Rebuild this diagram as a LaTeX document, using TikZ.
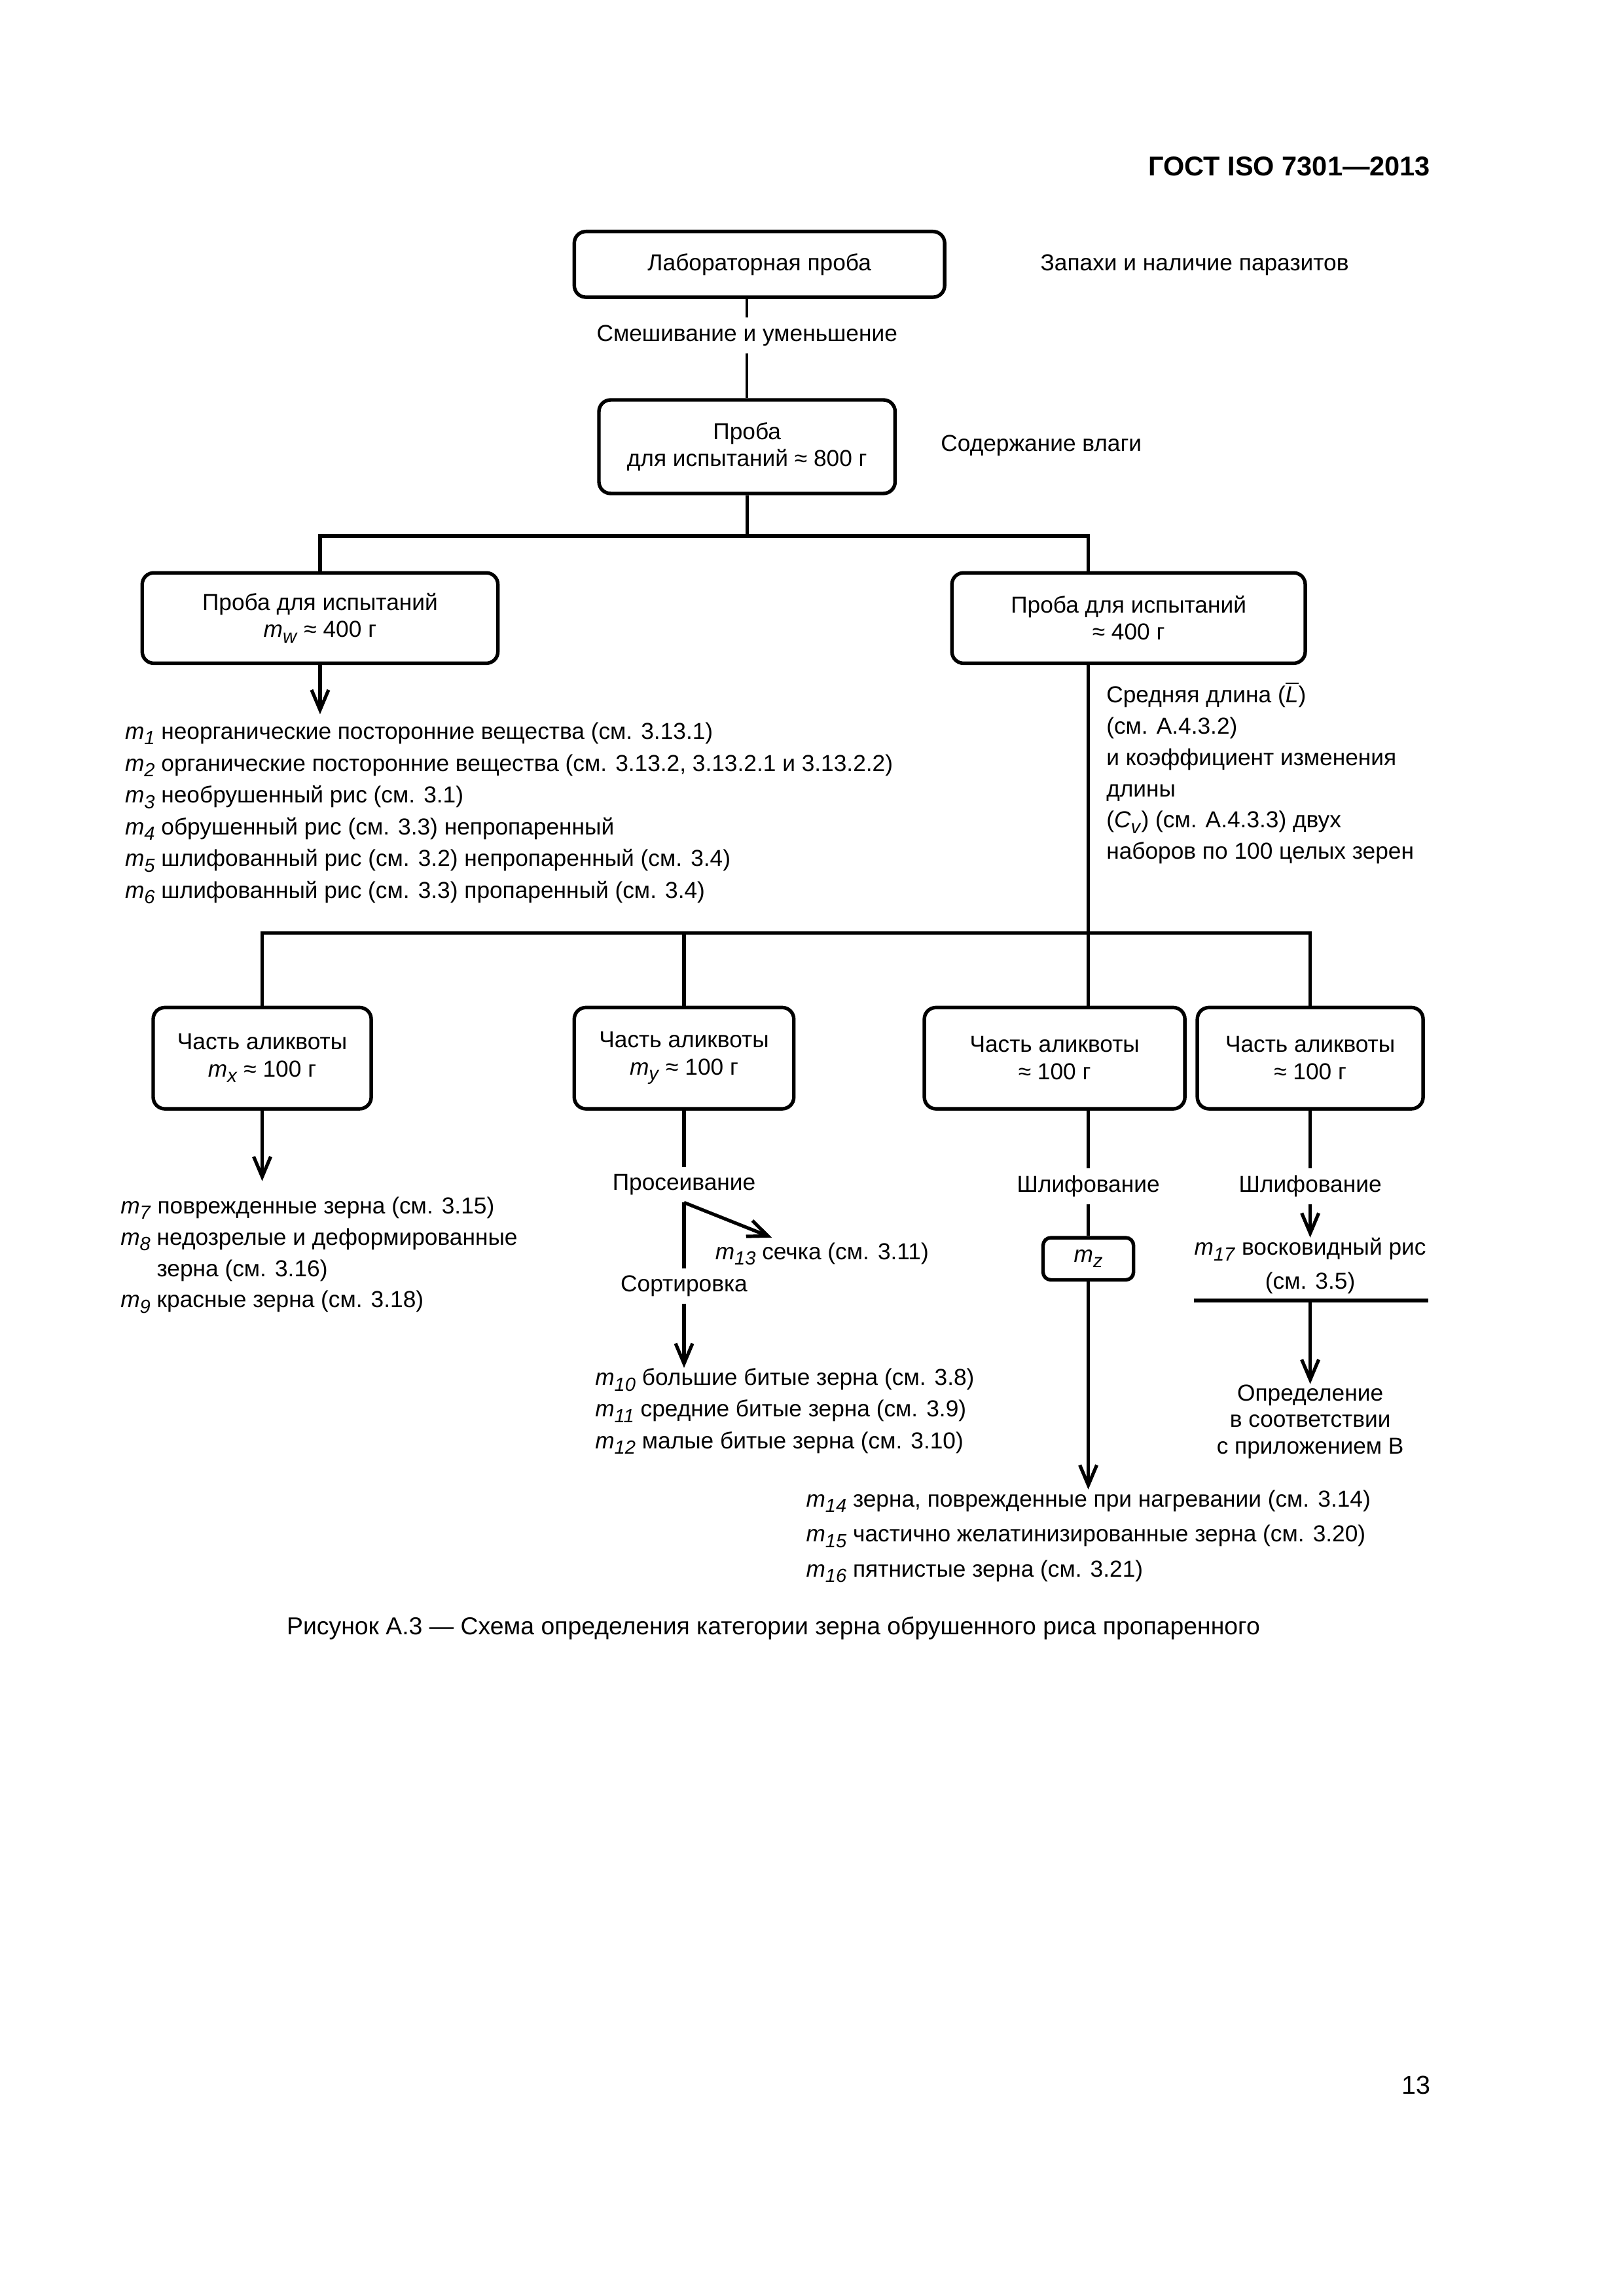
\documentclass[tikz,border=0pt]{standalone}
\usepackage{fontspec}
\setmainfont{Liberation Sans}
\usetikzlibrary{arrows.meta}
\newcommand{\isub}[2]{\textit{#1}\raisebox{-0.45ex}{\fontsize{7}{7}\selectfont\textit{#2}}}
\newcommand{\msub}[1]{\isub{m}{#1}}
\newcommand{\figfont}{\fontsize{8.5}{10}\selectfont}
\tikzset{
  box/.style={draw, rounded corners=1.5mm, line width=1.3pt, align=center, font=\figfont, inner sep=0pt},
  lbl/.style={font=\figfont, inner sep=2.5pt},
  lst/.style={font=\fontsize{8.5}{11.7}\selectfont, align=left, inner sep=0pt, anchor=north west},
  ln/.style={line width=1.25pt},
  thin ln/.style={line width=0.9pt},
  arr/.style={line width=1.25pt, -{Straight Barb[length=2.6mm,width=2.2mm]}},
}
\begin{document}
\begin{tikzpicture}[x=0.18945mm, y=-0.18945mm]
\useasboundingbox (0,0) rectangle (1108.5,1567.7);
\node[anchor=base east, font=\bfseries\fontsize{10}{12}\selectfont] (hdr) at (983,120) {ГОСТ ISO 7301—2013};
% upper part
\node[box, minimum width=47.9mm, minimum height=8.5mm] (lab) at (518.5,180.5) {Лабораторная проба};
\node[lbl, anchor=base west, inner sep=0pt] (odour) at (710,185) {Запахи и наличие паразитов};
\node[lbl] (mix) at (510,229) {Смешивание и уменьшение};
\node[box, minimum width=38.3mm, minimum height=12.1mm] (prob800) at (510,305) {Проба\\для испытаний ≈ 800 г};
\node[lbl, anchor=base west, inner sep=0pt] (moist) at (642,308) {Содержание влаги};
\coordinate (split1) at (510,366);
\coordinate (rtop) at (743,366);
\node[box, minimum width=46mm, minimum height=11.7mm] (probw) at (218.5,422) {Проба для испытаний\\\msub{w} ≈ 400 г};
\node[box, minimum width=45.7mm, minimum height=11.7mm] (prob400) at (770.5,422) {Проба для испытаний\\≈ 400 г};
\node[lst] (lst1) at (85,493) {\msub{1} неорганические посторонние вещества (см. 3.13.1)\\
\msub{2} органические посторонние вещества (см. 3.13.2, 3.13.2.1 и 3.13.2.2)\\
\msub{3} необрушенный рис (см. 3.1)\\
\msub{4} обрушенный рис (см. 3.3) непропаренный\\
\msub{5} шлифованный рис (см. 3.2) непропаренный (см. 3.4)\\
\msub{6} шлифованный рис (см. 3.3) пропаренный (см. 3.4)};
\node[lst, font=\fontsize{8.5}{11.5}\selectfont] (lenlst) at (755,465) {Средняя длина (\ensuremath{\overline{\textit{L}}})\\
(см. А.4.3.2)\\
и коэффициент изменения\\
длины\\
(\isub{C}{v}) (см. А.4.3.3) двух\\
наборов по 100 целых зерен};
\coordinate (bar2) at (743,637);
% aliquots
\node[box, minimum width=28.2mm, minimum height=13.1mm] (alx) at (179,722.5) {Часть аликвоты\\\msub{x} ≈ 100 г};
\node[box, minimum width=28.4mm, minimum height=13.1mm] (aly) at (467,722.5) {Часть аликвоты\\\msub{y} ≈ 100 г};
\node[box, minimum width=33.7mm, minimum height=13.1mm] (alz) at (720,722.5) {Часть аликвоты\\≈ 100 г};
\node[box, minimum width=29.2mm, minimum height=13.1mm] (alq) at (894.5,722.5) {Часть аликвоты\\≈ 100 г};
\node[lst, font=\fontsize{8.5}{11.5}\selectfont] (lst7) at (82,817) {\msub{7} поврежденные зерна (см. 3.15)\\
\msub{8} недозрелые и деформированные\\
\phantom{\msub{8} }зерна (см. 3.16)\\
\msub{9} красные зерна (см. 3.18)};
\node[lbl] (sieve) at (467,809) {Просеивание};
\node[lbl] (sort) at (467,878) {Сортировка};
\coordinate (cuttip) at (527,845);
\node[anchor=base west, font=\figfont, inner sep=0pt] (lst13) at (488,860) {\msub{13} сечка (см. 3.11)};
\node[lst, font=\fontsize{8.5}{11.6}\selectfont] (lst10) at (406,934) {\msub{10} большие битые зерна (см. 3.8)\\
\msub{11} средние битые зерна (см. 3.9)\\
\msub{12} малые битые зерна (см. 3.10)};
\node[lbl] (grind1) at (743,810) {Шлифование};
\node[box, rounded corners=1mm, minimum width=11.7mm, minimum height=5.45mm] (mz) at (743,859.5) {\msub{z}};
\node[lst, font=\fontsize{8.5}{12.9}\selectfont] (lst14) at (550,1017) {\msub{14} зерна, поврежденные при нагревании (см. 3.14)\\
\msub{15} частично желатинизированные зерна (см. 3.20)\\
\msub{16} пятнистые зерна (см. 3.21)};
\node[lbl] (grind2) at (894.5,810) {Шлифование};
\node[align=center, font=\fontsize{8.5}{12.4}\selectfont, inner sep=0pt, anchor=north] (wax) at (894.5,845) {\msub{17} восковидный рис\\(см. 3.5)};
\coordinate (ruleL) at (815,888);
\coordinate (ruleR) at (975,888);
\coordinate (rulemid) at (894.5,888);
\node[align=center, font=\fontsize{8.5}{9.8}\selectfont, inner sep=0pt, anchor=north] (annexB) at (894.5,945) {Определение\\в соответствии\\с приложением В};
% connectors
\draw[thin ln] (mix |- lab.south) -- (mix);
\draw[thin ln] (mix) -- (prob800);
\draw[ln] (prob800) -- (split1);
\draw[ln] (probw.north) |- (rtop) -- (rtop |- prob400.north);
\draw[arr] (probw.south) -- ([yshift=1mm]probw.south |- lst1.north);
\draw[ln] (rtop |- prob400.south) -- (bar2);
\draw[ln] (alx.north) |- (bar2) -| (alq.north);
\draw[ln] (aly.north) -- (aly.north |- bar2);
\draw[ln] (bar2) -- (bar2 |- alz.north);
\draw[arr] (alx.south) -- ([yshift=2mm]alx.south |- lst7.north);
\draw[ln] (aly.south) -- (sieve);
\draw[ln] (sieve) -- (sort);
\draw[arr] (sieve.south) -- (cuttip);
\draw[arr] (sort) -- (sort |- lst10.north);
\draw[ln] (bar2 |- alz.south) -- (grind1);
\draw[ln] (grind1) -- (mz);
\draw[arr] (mz) -- (mz |- lst14.north);
\draw[ln] (alq) -- (grind2);
\draw[arr] (grind2) -- (wax);
\draw[ln] (ruleL) -- (ruleR);
\draw[arr] (rulemid) -- (annexB);
% caption
\node[anchor=base, font=\fontsize{9}{11}\selectfont] (cap) at (528,1116) {Рисунок А.3 — Схема определения категории зерна обрушенного риса пропаренного};
\node[anchor=base east, font=\fontsize{9.5}{11}\selectfont] (pgno) at (983,1430) {13};
\end{tikzpicture}
\end{document}
